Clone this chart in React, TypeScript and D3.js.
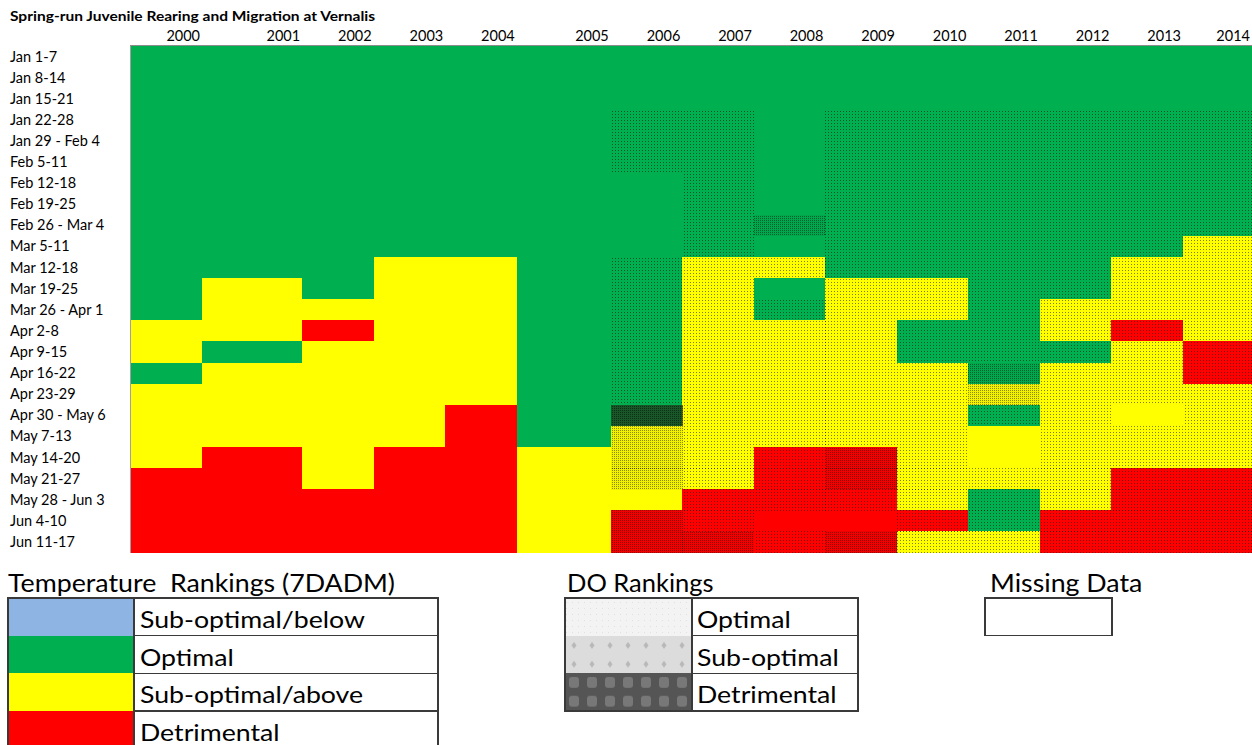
import React from "react";
import * as d3 from "d3";

// ---------- DATA ----------
const title = "Spring-run Juvenile Rearing and Migration at Vernalis";
const years = ["2000","2001","2002","2003","2004","2005","2006","2007","2008","2009","2010","2011","2012","2013","2014"];
const weeks = [
  "Jan 1-7","Jan 8-14","Jan 15-21","Jan 22-28","Jan 29 - Feb 4","Feb 5-11","Feb 12-18","Feb 19-25",
  "Feb 26 - Mar 4","Mar 5-11","Mar 12-18","Mar 19-25","Mar 26 - Apr 1","Apr 2-8","Apr 9-15","Apr 16-22",
  "Apr 23-29","Apr 30 - May 6","May 7-13","May 14-20","May 21-27","May 28 - Jun 3","Jun 4-10","Jun 11-17"
];
// Temperature ranking per year (24 weeks, written in groups of 6):
// B sub-optimal/below, G optimal, Y sub-optimal/above, R detrimental
const tempRank = [
  "GGGGGG GGGGGG GYYGYY YYRRRR", // 2000
  "GGGGGG GGGGGY YYGYYY YRRRRR", // 2001
  "GGGGGG GGGGGG YRYYYY YYYRRR", // 2002
  "GGGGGG GGGGYY YYYYYY YRRRRR", // 2003
  "GGGGGG GGGGYY YYYYYR RRRRRR", // 2004
  "GGGGGG GGGGGG GGGGGG GYYYYY", // 2005
  "GGGGGG GGGGGG GGGGGG YYYYRR", // 2006
  "GGGGGG GGGGYY YYYYYY YYYRRR", // 2007
  "GGGGGG GGGGYG GYYYYY YRRRRR", // 2008
  "GGGGGG GGGGGY YYYYYY YRRRRR", // 2009
  "GGGGGG GGGGGY YGGYYY YYYYRY", // 2010
  "GGGGGG GGGGGG GGGGYG YYYGGY", // 2011
  "GGGGGG GGGGGG YYGYYY YYYYRR", // 2012
  "GGGGGG GGGGYY YRYYYY YYRRRR", // 2013
  "GGGGGG GGGYYY YYRRYY YYRRRR", // 2014
];
// DO ranking per year (24 weeks, groups of 6): - none, o optimal, s sub-optimal, d detrimental
const doRank = [
  "------ ------ ------ ------", // 2000
  "------ ------ ------ ------", // 2001
  "------ ------ ------ ------", // 2002
  "------ ------ ------ ------", // 2003
  "------ ------ ------ ------", // 2004
  "------ ------ ------ ------", // 2005
  "---ooo ----oo oooood sss-ss", // 2006
  "---ooo oooooo oooooo ooooos", // 2007
  "------ --s-o- oooooo oooo-o", // 2008
  "---ooo oooooo oooooo osso-s", // 2009
  "---ooo oooooo oooooo oooooo", // 2010
  "---ooo oooooo ooosso --oooo", // 2011
  "---ooo oooooo oooooo oooooo", // 2012
  "---ooo oooooo ooooo- oooooo", // 2013
  "---ooo oooooo oooooo oooooo", // 2014
];
const tempLegend = ["Sub-optimal/below","Optimal","Sub-optimal/above","Detrimental"];
const tempLegendCodes = ["B","G","Y","R"];
const doLegend = ["Optimal","Sub-optimal","Detrimental"];
const doLegendCodes = ["o","s","d"];

// ---------- LAYOUT / STYLE ----------
const W = 1252, H = 745;
const colUnits = [1,1.4,1,1,1,1.315,1,1,1,1,1,1,1,1,0.965];
const FONT = "Lato, 'Open Sans', sans-serif";
const LBL_STRETCH = 1.16;
const TTL_STRETCH = 1.05;

const clean = (s: string) => s.replace(/ /g, "");

export default function App() {
  const cum = [0, ...Array.from(d3.cumsum(colUnits))];
  const xs = d3.scaleLinear().domain([0, d3.sum(colUnits)]).range([130.5, 1252]);
  const colX0 = (i: number) => xs(cum[i]);
  const colX1 = (i: number) => xs(cum[i + 1]);
  const y = d3.scaleBand<string>().domain(weeks).range([46, 552.5]).padding(0);
  const color = d3.scaleOrdinal<string, string>().domain(["B","G","Y","R"]).range(["#8DB4E2","#00B050","#FFFF00","#FF0000"]);

  const tR = tempRank.map(clean);
  const dR = doRank.map(clean);

  const cells: { x: number; w: number; y: number; h: number; t: string; d: string; key: string }[] = [];
  years.forEach((yr, i) => {
    weeks.forEach((wk, j) => {
      cells.push({ x: colX0(i), w: colX1(i) - colX0(i), y: y(wk)!, h: y.bandwidth(), t: tR[i][j], d: dR[i][j] || "-", key: yr + "|" + wk });
    });
  });

  const tRowH = 37.7;
  const stretchText = (x: number, yy: number, s: number, size: number, txt: string, key?: string) => (
    <text key={key} transform={`translate(${x},${yy}) scale(${s},1)`} fontSize={size} fill="#000" style={{ whiteSpace: "pre" }}>{txt}</text>
  );

  return (
    <svg width={W} height={H} style={{ position: "absolute", left: 0, top: 0, background: "#fff" }} fontFamily={FONT}>
      <defs>
        <pattern id="do-o" width="3" height="3" patternUnits="userSpaceOnUse">
          <rect x="0" y="0" width="1" height="1" fill="#000" fillOpacity="0.5" />
        </pattern>
        <pattern id="do-s" width="2" height="2" patternUnits="userSpaceOnUse">
          <rect x="0" y="0" width="2" height="2" fill="#000" fillOpacity="0.05" />
          <rect x="0" y="0" width="1" height="1" fill="#000" fillOpacity="0.42" />
        </pattern>
        <pattern id="do-d" width="2" height="2" patternUnits="userSpaceOnUse">
          <rect x="0" y="0" width="2" height="2" fill="#2a2010" fillOpacity="0.62" />
          <rect x="0" y="0" width="1" height="1" fill="#000" fillOpacity="0.45" />
        </pattern>
        <pattern id="lg-o" width="6" height="6" patternUnits="userSpaceOnUse">
          <rect width="6" height="6" fill="#f3f3f3" />
          <rect x="2" y="2" width="1" height="1" fill="#e0e0e0" />
        </pattern>
        <pattern id="lg-s" x="565" y="636" width="18" height="18.8" patternUnits="userSpaceOnUse">
          <rect width="18" height="18.8" fill="#dcdcdc" />
          <path d="M9,6 L11.5,9.4 L9,12.8 L6.5,9.4 Z" fill="#b8b8b8" />
        </pattern>
        <pattern id="lg-d" x="565" y="673" width="18" height="18.8" patternUnits="userSpaceOnUse">
          <rect width="18" height="18.8" fill="#555555" />
          <rect x="4" y="4" width="10" height="10.8" fill="#787878" rx="3" />
        </pattern>
      </defs>

      <text transform={`translate(10,20.5) scale(${LBL_STRETCH},1)`} fontSize={13.4} fontWeight="bold" fill="#000">{title}</text>

      {years.map((yr, i) => (
        <text key={yr} x={colX1(i) - 2} y={41} fontSize={14.5} textAnchor="end" fill="#000">{yr}</text>
      ))}
      {weeks.map((wk) => (
        <text key={wk} x={10} y={y(wk)! + y.bandwidth() / 2 + 5} fontSize={14.5} fill="#000">{wk}</text>
      ))}

      <g shapeRendering="crispEdges">
        {cells.map((c) => (
          <rect key={"t" + c.key} x={c.x} y={c.y} width={c.w + 0.5} height={c.h + 0.5} fill={color(c.t)} />
        ))}
        {cells.filter((c) => c.d !== "-").map((c) => (
          <rect key={"d" + c.key} x={c.x} y={c.y} width={c.w + 0.5} height={c.h + 0.5} fill={`url(#do-${c.d})`} />
        ))}
        <line x1={130} x2={1252} y1={45.5} y2={45.5} stroke="#8c8c8c" />
        <line x1={130.5} x2={130.5} y1={45.5} y2={552.5} stroke="#a0a0a0" />
      </g>

      {/* Temperature legend */}
      {stretchText(8, 592, TTL_STRETCH, 25.5, "Temperature  Rankings (7DADM)")}
      <g shapeRendering="crispEdges">
        {tempLegend.map((lab, i) => (
          <g key={lab}>
            <rect x={8} y={598 + i * tRowH} width={126} height={tRowH} fill={color(tempLegendCodes[i])} />
            <rect x={134} y={598 + i * tRowH} width={304} height={tRowH} fill="#fff" stroke="#3a3a3a" strokeWidth={1.3} />
          </g>
        ))}
        <rect x={8} y={598} width={430} height={tRowH * 4} fill="none" stroke="#3a3a3a" strokeWidth={1.3} />
      </g>
      {tempLegend.map((lab, i) => stretchText(140, 598 + i * tRowH + 30, LBL_STRETCH, 23, lab, "l" + lab))}

      {/* DO legend */}
      {stretchText(567, 592, 1.0, 25.5, "DO Rankings")}
      <g shapeRendering="crispEdges">
        {doLegend.map((lab, i) => (
          <g key={lab}>
            <rect x={565} y={598 + i * tRowH} width={127} height={tRowH} fill={`url(#lg-${doLegendCodes[i]})`} />
            <rect x={692} y={598 + i * tRowH} width={166} height={tRowH} fill="#fff" stroke="#3a3a3a" strokeWidth={1.3} />
          </g>
        ))}
        <rect x={565} y={598} width={293} height={tRowH * 3} fill="none" stroke="#3a3a3a" strokeWidth={1.3} />
      </g>
      {doLegend.map((lab, i) => stretchText(697, 598 + i * tRowH + 30, LBL_STRETCH, 23, lab, "d" + lab))}

      {/* Missing data legend */}
      {stretchText(990, 592, 1.05, 25.5, "Missing Data")}
      <rect x={985} y={598} width={127} height={tRowH} fill="#fff" stroke="#3a3a3a" strokeWidth={1.3} shapeRendering="crispEdges" />
    </svg>
  );
}
